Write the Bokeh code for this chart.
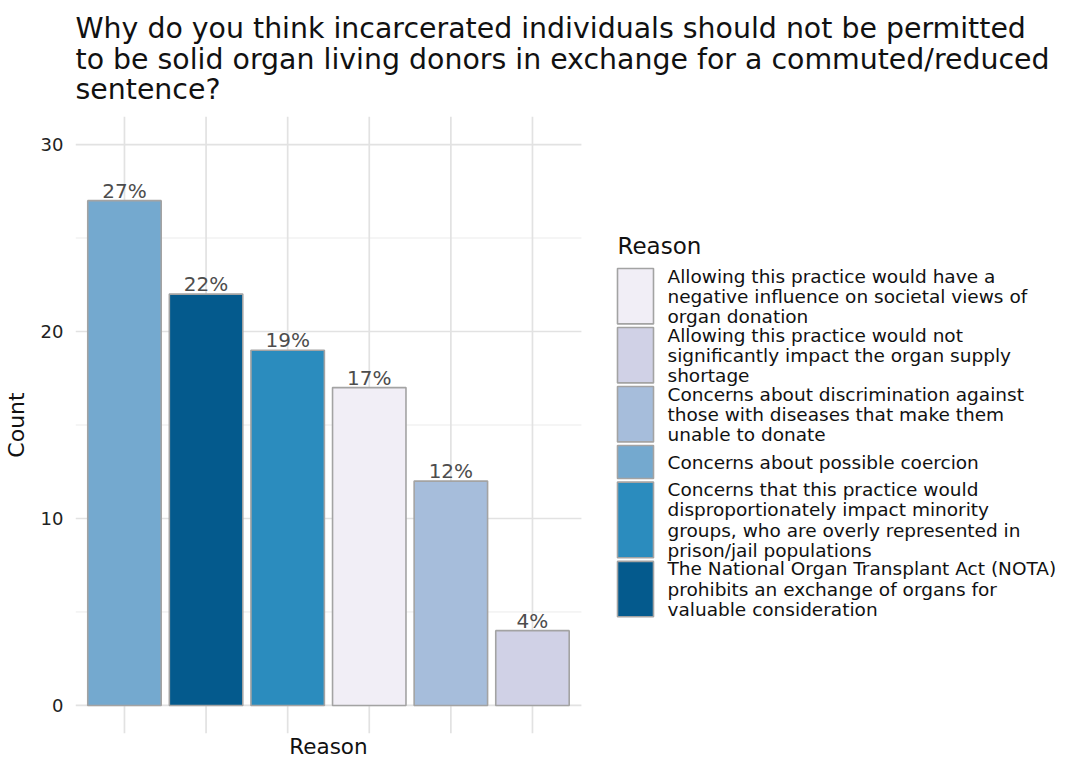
import numpy as np
from bokeh.plotting import figure
from bokeh.models import FixedTicker, Range1d
from bokeh.core.properties import value
from bokeh.embed import file_html
from bokeh.resources import INLINE

# ---------------- data ----------------
title_lines = [
    "Why do you think incarcerated individuals should not be permitted",
    "to be solid organ living donors in exchange for a commuted/reduced",
    "sentence?",
]

# legend entries (as wrapped in the legend) and their colours
legend_lines = [
    ["Allowing this practice would have a", "negative influence on societal views of", "organ donation"],
    ["Allowing this practice would not", "significantly impact the organ supply", "shortage"],
    ["Concerns about discrimination against", "those with diseases that make them", "unable to donate"],
    ["Concerns about possible coercion"],
    ["Concerns that this practice would", "disproportionately impact minority",
     "groups, who are overly represented in", "prison/jail populations"],
    ["The National Organ Transplant Act (NOTA)", "prohibits an exchange of organs for", "valuable consideration"],
]
legend_colors = ["#F1EEF6", "#D0D1E6", "#A6BDDB", "#74A9CF", "#2B8CBE", "#045A8D"]

# bars, in plotted order
bar_reasons = [
    "Concerns about possible coercion",
    "The National Organ Transplant Act (NOTA) prohibits an exchange of organs for valuable consideration",
    "Concerns that this practice would disproportionately impact minority groups, who are overly represented in prison/jail populations",
    "Allowing this practice would have a negative influence on societal views of organ donation",
    "Concerns about discrimination against those with diseases that make them unable to donate",
    "Allowing this practice would not significantly impact the organ supply shortage",
]
bar_counts = [27, 22, 19, 17, 12, 4]
bar_pct_labels = ["27%", "22%", "19%", "17%", "12%", "4%"]

y_major = [0, 10, 20, 30]
y_minor = [5, 15, 25]
x_title = "Reason"
y_title = "Count"
legend_title = "Reason"

# ---------------- layout ----------------
FONT = "DejaVu Sans"
FW, FH = 982, 617

n = len(bar_counts)
xs = list(range(1, n + 1))
x_start = xs[0] - 0.6
x_panel_end = xs[-1] + 0.6
x_mid = (xs[0] + xs[-1]) / 2
XPX = 81.6
x_end = x_start + FW / XPX
y_start, y_end = -1.5, 31.5
YPX = FH / (y_end - y_start)


def fx(px):
    return x_start + px / XPX


def fy(py):
    return y_end - py / YPX


color_of = {" ".join(l): c for l, c in zip(legend_lines, legend_colors)}
bar_colors = [color_of[r] for r in bar_reasons]

p = figure(
    frame_width=FW, frame_height=FH,
    min_border_left=0, min_border_right=0, min_border_top=0, min_border_bottom=0,
    x_range=Range1d(x_start, x_end), y_range=Range1d(y_start, y_end),
    output_backend="svg", toolbar_location=None,
)
p.outline_line_color = None
p.background_fill_color = "white"
p.border_fill_color = "white"
p.xgrid.visible = False
p.ygrid.visible = False

# title
p.title.text = "\n".join(title_lines)
p.title.text_font = FONT
p.title.text_font_size = "28.4px"
p.title.text_font_style = "normal"
p.title.text_color = "#111111"
p.title.align = "left"
p.title.standoff = 20
if "text_line_height" in p.title.properties():
    p.title.text_line_height = 0.93

# x axis: only its title, centred under the bar panel
xa = p.xaxis[0]
xa.ticker = FixedTicker(ticks=[x_mid], minor_ticks=[])
xa.major_label_overrides = {x_mid: x_title}
xa.axis_line_color = None
xa.major_tick_line_color = None
xa.minor_tick_line_color = None
xa.major_tick_out = 0
xa.major_tick_in = 0
xa.major_label_standoff = 0
xa.major_label_text_font = FONT
xa.major_label_text_font_size = "21.5px"
xa.major_label_text_color = "#111111"

# y axis
ya = p.yaxis[0]
ya.ticker = FixedTicker(ticks=y_major, minor_ticks=[])
ya.axis_line_color = None
ya.major_tick_line_color = None
ya.minor_tick_line_color = None
ya.major_tick_out = 0
ya.major_tick_in = 0
ya.major_label_standoff = 12
ya.major_label_text_font = FONT
ya.major_label_text_font_size = "18px"
ya.major_label_text_color = "#222222"
ya.axis_label = y_title
ya.axis_label_text_font = FONT
ya.axis_label_text_font_size = "22px"
ya.axis_label_text_font_style = "normal"
ya.axis_label_text_color = "#111111"
ya.axis_label_standoff = 9

# grid lines (panel only)
p.segment(x0=[x_start] * len(y_minor), x1=[x_panel_end] * len(y_minor), y0=y_minor, y1=y_minor,
          line_color="#ebebeb", line_width=1.0)
p.segment(x0=[x_start] * len(y_major), x1=[x_panel_end] * len(y_major), y0=y_major, y1=y_major,
          line_color="#e2e2e2", line_width=1.7)
p.segment(x0=xs, x1=xs, y0=[y_start] * n, y1=[y_end] * n, line_color="#e2e2e2", line_width=1.7)

# bars
p.vbar(x=xs, top=bar_counts, bottom=0, width=0.9, fill_color=bar_colors,
       line_color="#a3a3a3", line_width=1.6)
p.text(x=xs, y=bar_counts, text=bar_pct_labels, text_align="center", text_baseline="middle",
       y_offset=-10, text_font=value(FONT), text_font_size="20px", text_color="#4d4d4d")

# legend (drawn manually, ggplot style)
key_l, key_r, txt_x = 542, 578, 592
line_px = 20.3
top = 152
lefts, rights, tops, bots, cys = [], [], [], [], []
for lines in legend_lines:
    h = max(33.0, line_px * len(lines) - 5.5)
    lefts.append(fx(key_l)); rights.append(fx(key_r))
    tops.append(fy(top)); bots.append(fy(top + h))
    cys.append(fy(top + h / 2))
    top += h + 3.6

p.quad(left=lefts, right=rights, top=tops, bottom=bots, fill_color=legend_colors,
       line_color="#a3a3a3", line_width=1.6)
p.text(x=[fx(txt_x)] * len(legend_lines), y=cys, text=["\n".join(l) for l in legend_lines],
       text_align="left", text_baseline="middle", text_font=value(FONT),
       text_font_size="18.5px", text_line_height=0.96, text_color="#111111")
p.text(x=[fx(key_l)], y=[fy(129)], text=[legend_title], text_align="left", text_baseline="middle",
       text_font=value(FONT), text_font_size="23px", text_color="#111111")

open("out.html", "w").write(file_html(p, INLINE))
